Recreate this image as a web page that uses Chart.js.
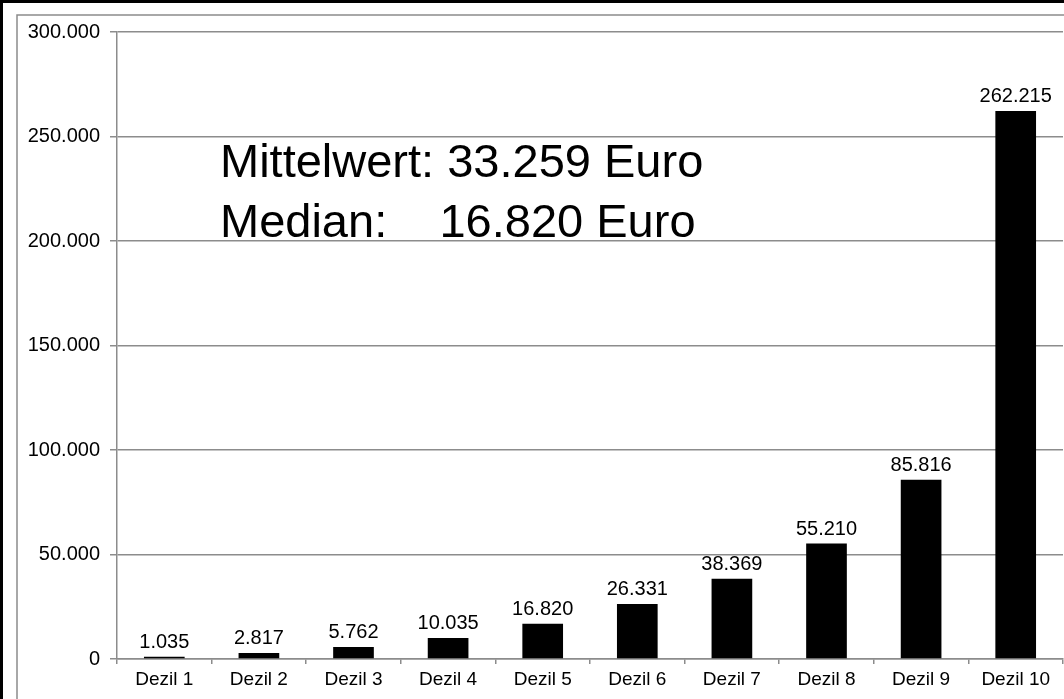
<!DOCTYPE html>
<html>
<head>
<meta charset="utf-8">
<script src="https://cdn.jsdelivr.net/npm/chart.js@4/dist/chart.umd.min.js"></script>
<style>
  body { margin: 0; background: #fff; }
  #wrap { width: 1064px; height: 699px; }
</style>
</head>
<body>
<div id="wrap"><canvas id="chart" width="1064" height="699"></canvas></div>
<script>
const categories = ['Dezil 1', 'Dezil 2', 'Dezil 3', 'Dezil 4', 'Dezil 5', 'Dezil 6', 'Dezil 7', 'Dezil 8', 'Dezil 9', 'Dezil 10'];
const values = [1035, 2817, 5762, 10035, 16820, 26331, 38369, 55210, 85816, 262215];
const yTicks = [0, 50000, 100000, 150000, 200000, 250000, 300000];
const noteLines = ['Mittelwert: 33.259 Euro', 'Median:    16.820 Euro'];

const FONT = '"Liberation Sans", Arial, sans-serif';
const GRID = '#8c8c8c';

// 1035 -> "1.035"
function fmt(v) {
  return String(v).replace(/\B(?=(\d{3})+(?!\d))/g, '.');
}

const frame = {
  id: 'frame',
  beforeDraw(chart) {
    const ctx = chart.ctx;
    ctx.save();
    ctx.fillStyle = '#fff';
    ctx.fillRect(0, 0, chart.width, chart.height);
    // outer black frame (top + left visible)
    ctx.strokeStyle = '#000';
    ctx.lineWidth = 3;
    ctx.beginPath();
    ctx.moveTo(1.5, chart.height);
    ctx.lineTo(1.5, 1.5);
    ctx.lineTo(chart.width, 1.5);
    ctx.stroke();
    // inner grey frame
    ctx.strokeStyle = GRID;
    ctx.lineWidth = 1.5;
    ctx.beginPath();
    ctx.moveTo(17, chart.height);
    ctx.lineTo(17, 15);
    ctx.lineTo(chart.width, 15);
    ctx.stroke();
    ctx.restore();
  }
};

const barLabels = {
  id: 'barLabels',
  afterDatasetsDraw(chart) {
    const ctx = chart.ctx;
    const meta = chart.getDatasetMeta(0);
    ctx.save();
    ctx.font = '20px ' + FONT;
    ctx.fillStyle = '#000';
    ctx.textAlign = 'center';
    ctx.textBaseline = 'alphabetic';
    meta.data.forEach((bar, i) => {
      ctx.fillText(fmt(values[i]), bar.x, bar.y - 9);
    });
    ctx.restore();
  }
};

const note = {
  id: 'note',
  afterDraw(chart) {
    const ctx = chart.ctx;
    ctx.save();
    ctx.font = '47px ' + FONT;
    ctx.fillStyle = '#000';
    ctx.textAlign = 'left';
    ctx.textBaseline = 'alphabetic';
    noteLines.forEach((t, i) => ctx.fillText(t, 220, 177 + i * 60));
    ctx.restore();
  }
};

new Chart(document.getElementById('chart'), {
  type: 'bar',
  data: {
    labels: categories,
    datasets: [{
      data: values,
      backgroundColor: '#000',
      borderWidth: 0,
      categoryPercentage: 1,
      barPercentage: 0.43
    }]
  },
  options: {
    responsive: false,
    animation: false,
    layout: { padding: { left: 0, top: 32, right: 1, bottom: 0 } },
    plugins: {
      legend: { display: false },
      tooltip: { enabled: false }
    },
    scales: {
      x: {
        grid: {
          display: true,
          drawOnChartArea: false,
          drawTicks: true,
          tickLength: 5,
          offset: true,
          color: GRID,
          lineWidth: 1.5
        },
        border: { color: GRID, width: 1.5 },
        ticks: {
          color: '#000',
          font: { family: FONT, size: 19 },
          padding: 4,
          maxRotation: 0
        },
        afterFit(scale) { scale.height = 40; }
      },
      y: {
        min: 0,
        max: 300000,
        afterBuildTicks(scale) { scale.ticks = yTicks.map(v => ({ value: v })); },
        grid: {
          color: GRID,
          lineWidth: 1.5,
          tickLength: 7,
          drawTicks: true
        },
        border: { color: GRID, width: 1.5 },
        ticks: {
          color: '#000',
          font: { family: FONT, size: 20 },
          padding: 10,
          callback: v => fmt(v)
        },
        afterFit(scale) { scale.width = 117; }
      }
    }
  },
  plugins: [frame, barLabels, note]
});
</script>
</body>
</html>
